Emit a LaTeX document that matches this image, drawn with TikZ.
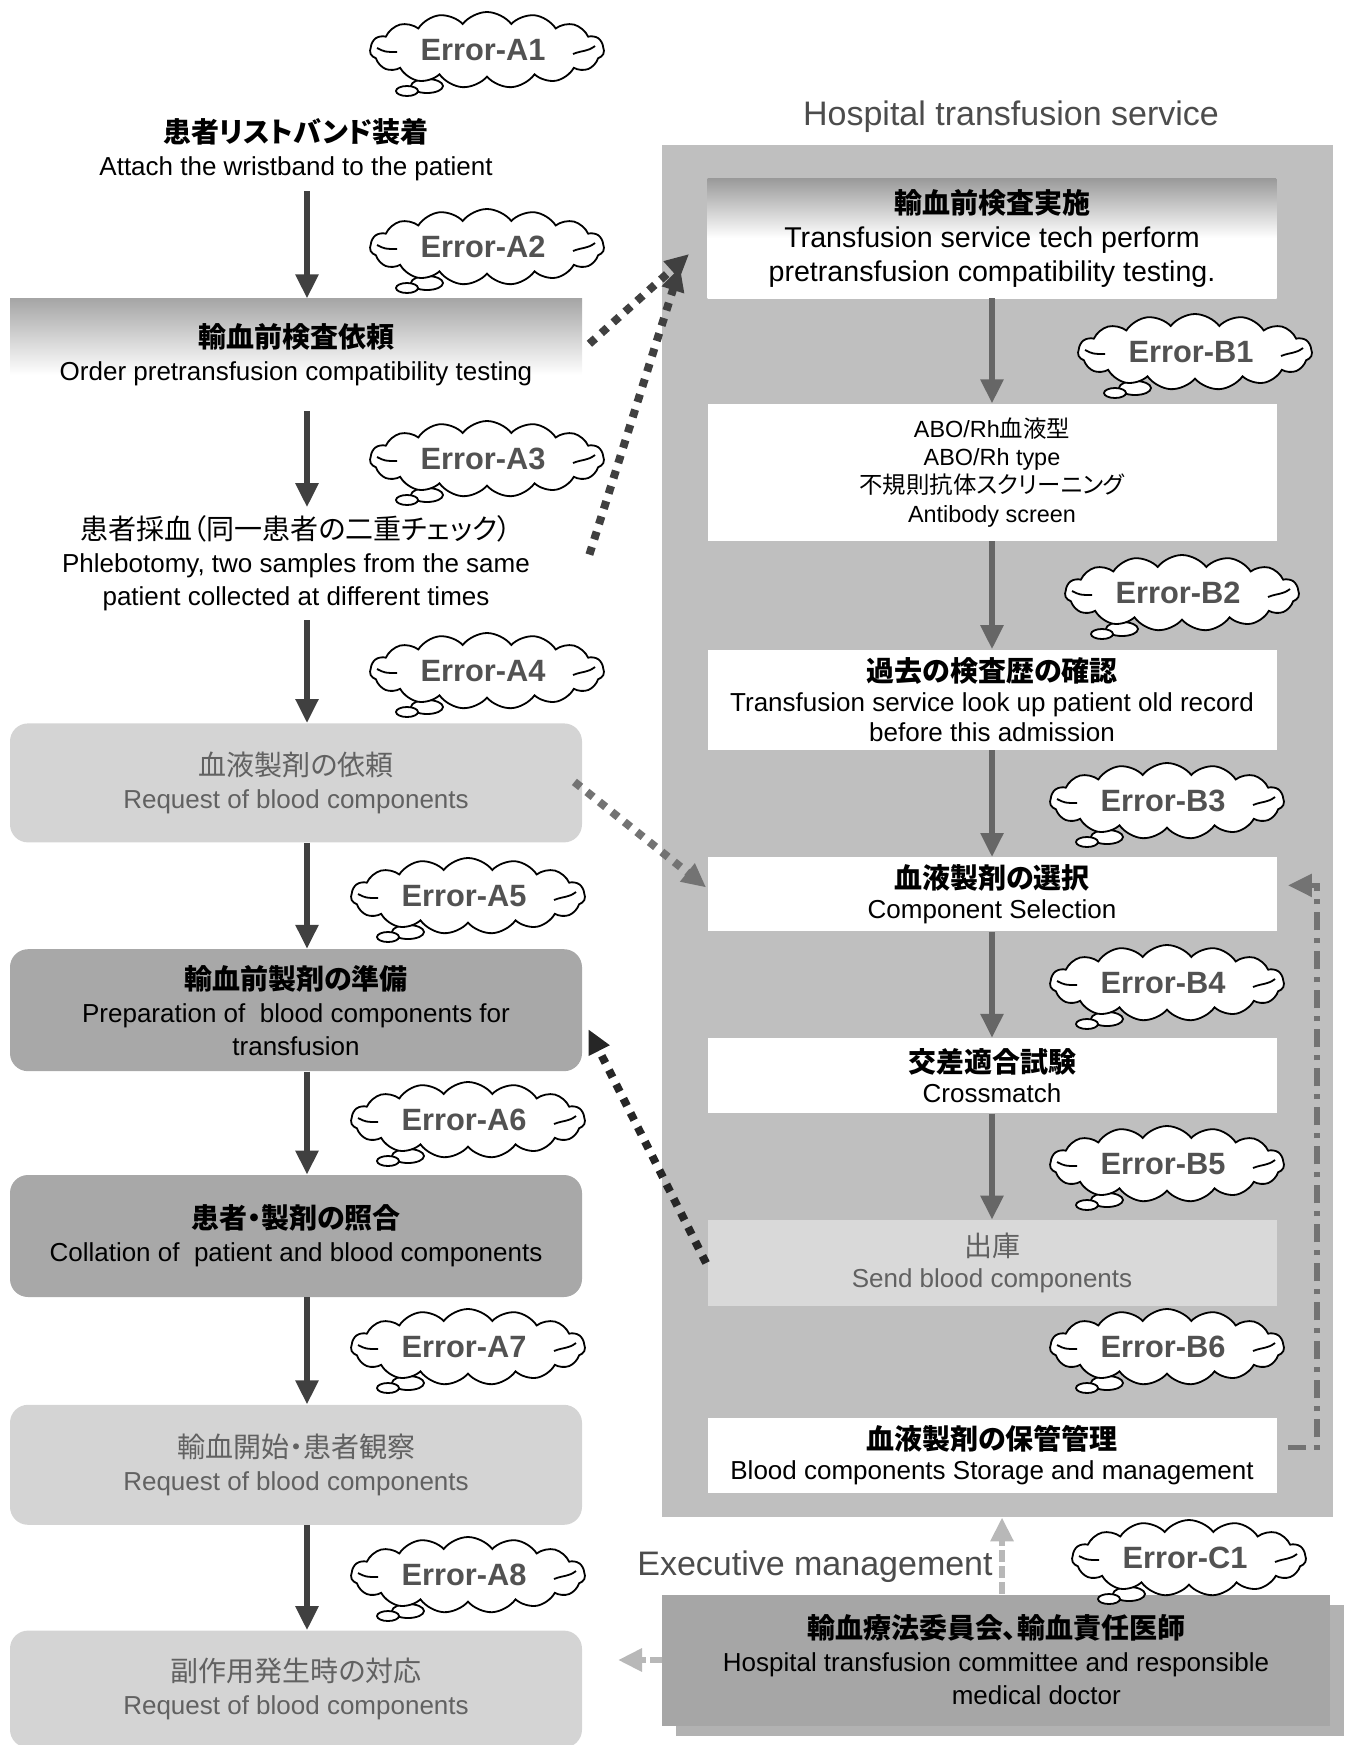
\documentclass[tikz,border=0pt]{standalone}
\usepackage{fontspec}
\setmainfont{Liberation Sans}
\newfontfamily\jpfont{Noto Sans CJK JP}[RawFeature=+palt]
\usepackage{tikz}
\usetikzlibrary{positioning}
\usetikzlibrary{arrows.meta}
\usetikzlibrary{shapes.symbols}

\pgfdeclareverticalshading{fadeorder}{100bp}{color(0bp)=(white); color(41bp)=(white); color(75bp)=(black!35); color(100bp)=(black!35)}
\pgfdeclareverticalshading{fadetest}{100bp}{color(0bp)=(white); color(50bp)=(white); color(75bp)=(black!40); color(100bp)=(black!40)}

\newcommand{\jhead}[1]{{\jpfont\bfseries\fontsize{14}{16.5}\selectfont #1}}
\newcommand{\jtext}[1]{{\jpfont\fontsize{14}{16.5}\selectfont #1}}

\begin{document}
\begin{tikzpicture}[x=0.5pt,y=-0.5pt,>={Triangle[length=12pt,width=11pt]},
        stepbox/.style={rectangle,minimum width=286pt,inner sep=2pt,align=center,text=black,font=\fontsize{13}{16.5}\selectfont},
        lightbox/.style={stepbox,fill=black!17,rounded corners=9pt,text=black!62},
        darkbox/.style={stepbox,fill=black!34,rounded corners=9pt},
        labbox/.style={rectangle,fill=white,minimum width=284.5pt,inner sep=2pt,align=center,text=black,font=\fontsize{13}{15.2}\selectfont},
        flow/.style={->,line width=2.8pt,draw=black!75},
        flowlab/.style={->,line width=2.8pt,draw=black!60},
        dotflow/.style={->,line width=4pt,dash pattern=on 4pt off 4pt},
        backflow/.style={->,line width=2.6pt,draw=black!55,dash pattern=on 9pt off 4pt on 2.5pt off 4pt},
        mgmt/.style={->,line width=3pt,draw=black!28,dash pattern=on 6pt off 2pt},
        cloudbox/.style={cloud,cloud puffs=15,cloud puff arc=105,cloud ignores aspect,draw,fill=white,line width=0.9pt,minimum width=117pt,minimum height=38pt,inner sep=1pt},
        errcloud/.pic={
            \draw[line width=0.9pt,fill=white] (-30pt,-18pt) ellipse (8pt and 3.5pt);
            \draw[line width=0.9pt,fill=white] (-40pt,-20.5pt) ellipse (5.5pt and 2.5pt);
            \node (-box) [cloudbox] {};
            \draw[line width=0.9pt] (-55pt,1pt) .. controls (-51pt,-1pt) .. (-45pt,-1pt);
            \draw[line width=0.9pt] (43pt,-2pt) .. controls (48pt,0pt) and (50pt,-1pt) .. (54pt,2pt);
            \node (-text) [text=black!68,font=\bfseries\fontsize{15.4}{18}\selectfont] at (-2pt,0pt) {#1};
        }]
        \useasboundingbox (0,0) rectangle (1350,1745);

        \node (wrist) at (296,150) [stepbox,minimum height=41pt] {\jhead{患者リストバンド装着}\\Attach the wristband to the patient};
        \node[below=53.5pt of wrist] (order) [stepbox,shade,shading=fadeorder,minimum height=56pt] {\jhead{輸血前検査依頼}\\Order pretransfusion compatibility testing};
        \node[below=48pt of order] (phleb) [stepbox,minimum height=56pt] {\jtext{患者採血（同一患者の二重チェック）}\\Phlebotomy, two samples from the same\\patient collected at different times};
        \node[below=51.5pt of phleb] (request) [lightbox,minimum height=59.5pt] {\jtext{血液製剤の依頼}\\Request of blood components};
        \node[below=53pt of request] (prep) [darkbox,minimum height=61pt] {\jhead{輸血前製剤の準備}\\Preparation of\ \ blood components for\\transfusion};
        \node[below=51.5pt of prep] (collate) [darkbox,minimum height=61pt] {\jhead{患者・製剤の照合}\\Collation of\ \ patient and blood components};
        \node[below=53.5pt of collate] (start) [lightbox,minimum height=60pt] {\jtext{輸血開始・患者観察}\\Request of blood components};
        \node[below=52.5pt of start] (adverse) [lightbox,minimum height=58.5pt] {\jtext{副作用発生時の対応}\\Request of blood components};
        \draw[flow] ([xshift=5.5pt]wrist.south) -- ([xshift=5.5pt]order.north);
        \draw[flow] ([xshift=5.5pt]order.south) -- ([xshift=5.5pt]phleb.north);
        \draw[flow] ([xshift=5.5pt]phleb.south) -- ([xshift=5.5pt]request.north);
        \draw[flow] ([xshift=5.5pt]request.south) -- ([xshift=5.5pt]prep.north);
        \draw[flow] ([xshift=5.5pt]prep.south) -- ([xshift=5.5pt]collate.north);
        \draw[flow] ([xshift=5.5pt]collate.south) -- ([xshift=5.5pt]start.north);
        \draw[flow] ([xshift=5.5pt]start.south) -- ([xshift=5.5pt]adverse.north);

        \node (service) at (1011,117) [font=\fontsize{17}{20}\selectfont,text=black!70] {Hospital transfusion service};
        \node (panel) at (997.5,831) [fill=black!25,minimum width=335.5pt,minimum height=686pt] {};
        \node (testing) at (992,238) [labbox,shade,shading=fadetest,minimum height=60pt,font=\fontsize{14.3}{17}\selectfont] {\jhead{輸血前検査実施}\\Transfusion service tech perform\\pretransfusion compatibility testing.};
        \node[below=52.5pt of testing] (typing) [labbox,minimum height=68.5pt,font=\fontsize{11.7}{14.2}\selectfont] {ABO/Rh{\jpfont 血液型}\\ABO/Rh type\\{\jpfont 不規則抗体スクリーニング}\\Antibody screen};
        \node[below=54pt of typing] (history) [labbox,minimum height=50pt] {\jhead{過去の検査歴の確認}\\Transfusion service look up patient old record\\before this admission};
        \node[below=53.5pt of history] (select) [labbox,minimum height=37pt] {\jhead{血液製剤の選択}\\Component Selection};
        \node[below=53pt of select] (crossmatch) [labbox,minimum height=37.5pt] {\jhead{交差適合試験}\\Crossmatch};
        \node[below=53pt of crossmatch] (issue) [labbox,fill=black!15,text=black!62,minimum height=43pt] {\jtext{出庫}\\Send blood components};
        \node[below=55.5pt of issue] (storage) [labbox,minimum height=37.5pt] {\jhead{血液製剤の保管管理}\\Blood components Storage and management};
        \draw[flowlab] (testing) -- (typing);
        \draw[flowlab] (typing) -- (history);
        \draw[flowlab] (history) -- (select);
        \draw[flowlab] (select) -- (crossmatch);
        \draw[flowlab] (crossmatch) -- (issue);
        \draw[backflow] ([shift={(5.5pt,4pt)}]storage.east) -- ++(14.5pt,0pt) |- ([shift={(5.5pt,4.5pt)}]select.east);

        \draw[dotflow,draw=black!75] ([shift={(3.5pt,5.5pt)}]order.east) -- ([shift={(-9pt,-8pt)}]testing.west);
        \draw[dotflow,draw=black!75] ([shift={(3.5pt,4.5pt)}]phleb.east) -- ([shift={(-13.5pt,-14.5pt)}]testing.west);
        \draw[dotflow,draw=black!55] ([shift={(-4pt,0.5pt)}]request.east) -- ([shift={(-0.5pt,3.5pt)}]select.west);
        \draw[dotflow,draw=black!85] ([xshift=-0.5pt]issue.west) -- ([shift={(3pt,-9.5pt)}]prep.east);

        \node (committeeback) at (1010,1670) [fill=black!30,minimum width=334pt,minimum height=65.5pt] {};
        \node (committee) at (996,1660) [stepbox,fill=black!35,minimum width=334pt,minimum height=65.5pt] {\jhead{輸血療法委員会、輸血責任医師}\\Hospital transfusion committee and responsible\\\hspace*{3.1em}medical doctor};
        \node (exec) at (815,1567) [font=\fontsize{17}{20}\selectfont,text=black!70] {Executive management};
        \draw[mgmt] ([xshift=3pt]committee.north) -- ([xshift=2.25pt]panel.south);
        \coordinate (adverseside) at (618,1660);
        \draw[mgmt] (committee.west) -- (adverseside);

        \pic (errA1) at (487,50) {errcloud=Error-A1};
        \pic (errA2) at (487,247) {errcloud=Error-A2};
        \pic (errA3) at (487,459) {errcloud=Error-A3};
        \pic (errA4) at (487,671) {errcloud=Error-A4};
        \pic (errA5) at (468,896) {errcloud=Error-A5};
        \pic (errA6) at (468,1120) {errcloud=Error-A6};
        \pic (errA7) at (468,1347) {errcloud=Error-A7};
        \pic (errA8) at (468,1575) {errcloud=Error-A8};
        \pic (errB1) at (1195,352) {errcloud=Error-B1};
        \pic (errB2) at (1182,593) {errcloud=Error-B2};
        \pic (errB3) at (1167,801) {errcloud=Error-B3};
        \pic (errB4) at (1167,983) {errcloud=Error-B4};
        \pic (errB5) at (1167,1164) {errcloud=Error-B5};
        \pic (errB6) at (1167,1347) {errcloud=Error-B6};
        \pic (errC1) at (1189,1558) {errcloud=Error-C1};
\end{tikzpicture}
\end{document}
